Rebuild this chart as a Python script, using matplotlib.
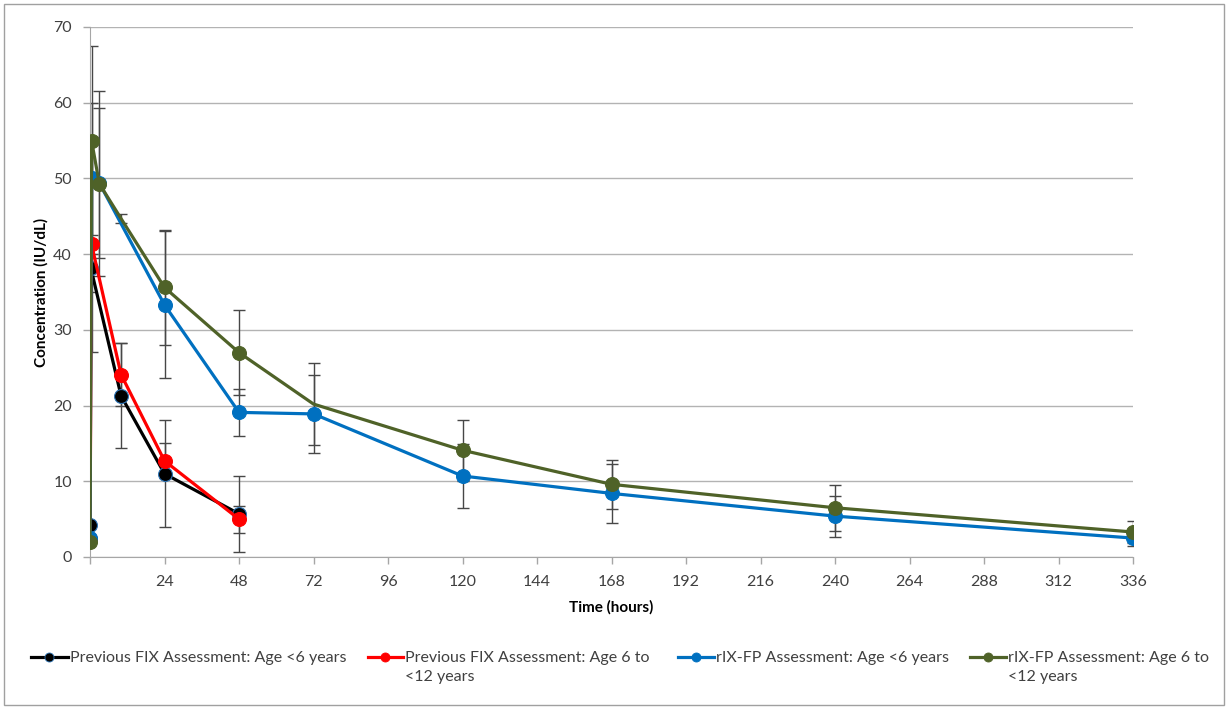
import matplotlib
matplotlib.use("Agg")
import matplotlib.pyplot as plt
from matplotlib.lines import Line2D
from matplotlib.patches import Rectangle

plt.rcParams.update({
    "font.family": ["Lato", "DejaVu Sans"],
    "font.size": 11,
    "text.color": "#404040",
    "xtick.color": "#404040",
    "ytick.color": "#404040",
})

# ---- data ----
t_prev_lt6 = [0, 0.25, 10, 24, 48]
prev_lt6 = [4.2, 38.2, 21.3, 11.0, 5.7]
prev_lt6_err = [0, 3.2, 6.9, 7.1, 5.0]

t_prev_6to12 = [0, 0.5, 10, 24, 48]
prev_6to12 = [2.4, 41.3, 24.1, 12.7, 5.0]
prev_6to12_err = [0, 14.2, 4.2, 2.3, 1.8]

t_rix_lt6 = [0, 0.5, 3, 24, 48, 72, 120, 168, 240, 336]
rix_lt6 = [2.5, 50.0, 49.4, 33.3, 19.1, 18.9, 10.7, 8.4, 5.4, 2.5]
rix_lt6_err = [0, 10.0, 9.9, 9.7, 3.1, 5.1, 4.2, 3.9, 2.7, 1.0]

t_rix_6to12 = [0, 0.5, 3, 10, 24, 48, 72, 120, 168, 240, 336]
rix_6to12 = [2.0, 55.0, 49.3, 44.7, 35.6, 27.0, 20.2, 14.1, 9.6, 6.5, 3.3]
rix_6to12_err = [0, 12.5, 12.2, 0.6, 7.6, 5.6, 5.4, 4.0, 3.2, 3.0, 1.5]
rix_6to12_marked = [0, 1, 2, 4, 5, 7, 8, 9, 10]

labels = [
    "Previous FIX Assessment: Age <6 years",
    "Previous FIX Assessment: Age 6 to\n<12 years",
    "rIX-FP Assessment: Age <6 years",
    "rIX-FP Assessment: Age 6 to\n<12 years",
]
colors = ["#000000", "#FF0000", "#0070C0", "#4F6228"]
edge_colors = ["#2E75B6", "#FF0000", "#0070C0", "#4F6228"]

W, H = 1228, 707
fig = plt.figure(figsize=(W / 100, H / 100), dpi=100)
ax = fig.add_axes([90 / W, 1 - 557 / H, (1133 - 90) / W, (557 - 27) / H])

series = [
    (t_prev_lt6, prev_lt6, prev_lt6_err, None),
    (t_prev_6to12, prev_6to12, prev_6to12_err, None),
    (t_rix_lt6, rix_lt6, rix_lt6_err, None),
    (t_rix_6to12, rix_6to12, rix_6to12_err, rix_6to12_marked),
]

for i, (t, y, e, mk) in enumerate(series):
    ax.errorbar(t, y, yerr=e, fmt="none", ecolor="#474747", elinewidth=1,
                capsize=4, capthick=1, zorder=2 + i * 0.01)
    ax.plot(t, y, color=colors[i], lw=2.3, marker="o", markersize=10,
            markerfacecolor=colors[i], markeredgecolor=edge_colors[i],
            markeredgewidth=0.8, markevery=mk, zorder=3 + i)

ax.set_xlim(0, 336)
ax.set_ylim(0, 70)
xt = list(range(0, 337, 24))
ax.set_xticks(xt)
ax.set_xticklabels([""] + [str(v) for v in xt[1:]])
ax.set_yticks(range(0, 71, 10))

ax.yaxis.grid(True, color="#b3b3b3", lw=1)
ax.set_axisbelow(True)
for s in ["top", "right"]:
    ax.spines[s].set_visible(False)
for s in ["left", "bottom"]:
    ax.spines[s].set_color("#a6a6a6")
ax.tick_params(axis="both", length=5, width=1, color="#a6a6a6", labelsize=11.5, pad=8)

ax.set_xlabel("Time (hours)", fontweight="bold", fontsize=11, color="#000000", labelpad=8)
ax.set_ylabel("Concentration (IU/dL)", fontweight="bold", fontsize=11, color="#000000", labelpad=3)

# ---- legend below the plot, laid out like the Excel one ----
handle_x = [(31, 68), (368, 403), (678, 714), (970, 1006)]
leg_y = 657
for i, (x0, x1) in enumerate(handle_x):
    fy = 1 - leg_y / H
    fig.add_artist(Line2D([x0 / W, x1 / W], [fy, fy], transform=fig.transFigure,
                          color=colors[i], lw=2.3))
    fig.add_artist(Line2D([(x0 + x1) / 2 / W], [fy], transform=fig.transFigure,
                          marker="o", markersize=6.5, color=colors[i],
                          markeredgecolor=edge_colors[i], markeredgewidth=0.6))
    fig.text((x1 + 2) / W, 1 - (leg_y - 6) / H, labels[i], ha="left", va="top",
             fontsize=11.5, linespacing=1.45, color="#404040")

fig.add_artist(Rectangle((0.003, 0.003), 0.994, 0.992, transform=fig.transFigure,
                         fill=False, edgecolor="#a0a0a0", lw=1))

fig.savefig("out.png", dpi=100)
